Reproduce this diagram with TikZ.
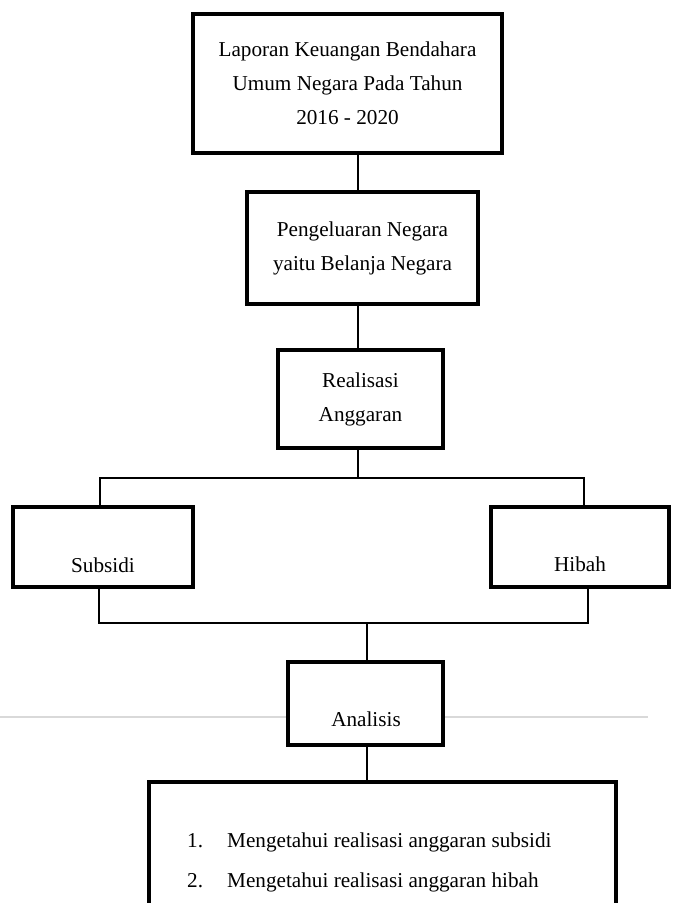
\documentclass[tikz,border=0pt]{standalone}
\usepackage{fontspec}
\setmainfont{Liberation Serif}
\usepackage{tikz}

\begin{document}
\begin{tikzpicture}[x=1pt,y=-1pt,
  font=\fontsize{21.2}{34}\selectfont,
  kotak/.style={draw,line width=4pt,fill=white,rectangle,align=center,inner sep=0pt},
  garis/.style={line width=1.5pt},
  teks/.style={inner sep=0pt}]
\useasboundingbox (0,0) rectangle (673,903);
\clip (0,0) rectangle (673,903);
\draw[gray!30,line width=1.5pt] (0,717) -- (648,717);
\coordinate (spine) at (358,0);
\coordinate (cabang) at (358,478);
\coordinate (kiri) at (100,478);
\coordinate (kanan) at (584,478);
\coordinate (kiribawah) at (99,623);
\coordinate (kananbawah) at (588,623);
\coordinate (gabung) at (367,623);
\node[kotak,minimum width=309pt,minimum height=139pt] (laporan) at (347.5,83.5) {Laporan Keuangan Bendahara\\Umum Negara Pada Tahun\\2016 - 2020};
\node[kotak,minimum width=231pt,minimum height=112pt] (belanja) at (362.5,248) {Pengeluaran Negara\\yaitu Belanja Negara};
\node[kotak,minimum width=165pt,minimum height=98pt] (realisasi) at (360.5,399) {Realisasi\\Anggaran};
\node[kotak,minimum width=180pt,minimum height=80pt] (subsidi) at (103,547) {};
\node[kotak,minimum width=178pt,minimum height=80pt] (hibah) at (580,547) {};
\node[kotak,minimum width=155pt,minimum height=83pt] (analisis) at (365.5,703.5) {};
\node[kotak,minimum width=467pt,minimum height=160pt] (tujuan) at (382.5,862) {};
\node[teks,anchor=base] (subsiditeks) at (103,572) {Subsidi};
\node[teks,anchor=base] (hibahteks) at (580,571) {Hibah};
\node[teks,anchor=base] (analisisteks) at (366,726) {Analisis};
\node[teks,anchor=base west] (butirsatu) at (187,847) {\makebox[40pt][l]{1.}Mengetahui realisasi anggaran subsidi};
\node[teks,anchor=base west] (butirdua) at (187,887) {\makebox[40pt][l]{2.}Mengetahui realisasi anggaran hibah};
\draw[garis] (laporan.south -| spine) -- (belanja.north -| spine);
\draw[garis] (belanja.south -| spine) -- (realisasi.north -| spine);
\draw[garis] (realisasi.south -| cabang) -- (cabang);
\draw[garis] (subsidi.north -| kiri) -- (kiri) -- (kanan) -- (hibah.north -| kanan);
\draw[garis] (subsidi.south -| kiribawah) -- (kiribawah) -- (kananbawah) -- (hibah.south -| kananbawah);
\draw[garis] (gabung) -- (analisis.north -| gabung);
\draw[garis] (analisis.south -| gabung) -- (tujuan.north -| gabung);
\end{tikzpicture}
\end{document}
